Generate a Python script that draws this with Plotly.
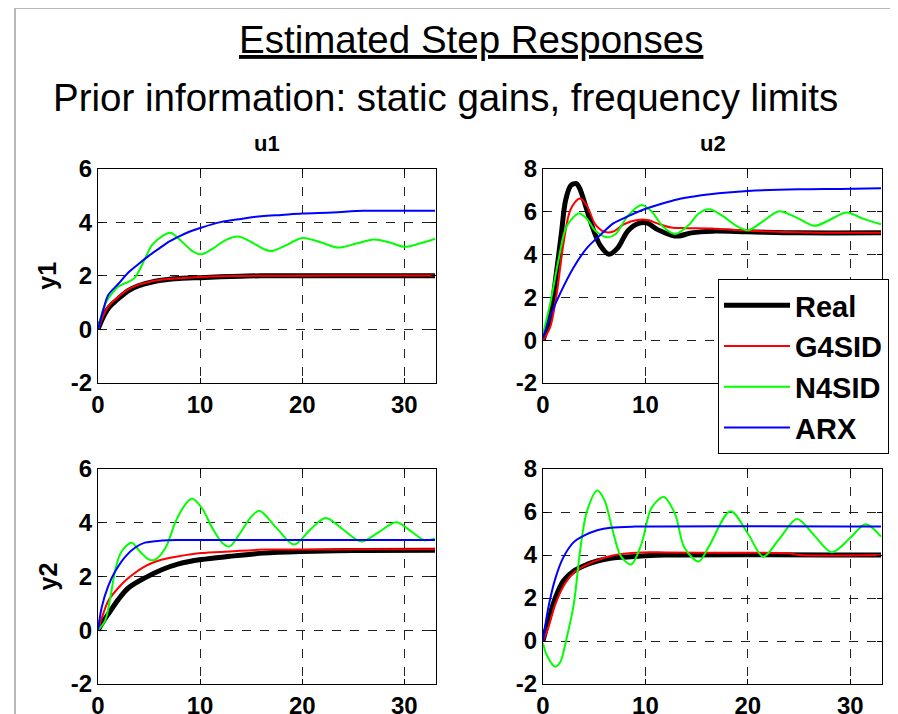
import plotly.graph_objects as go

W, H = 898, 714
OFF = 8  # page body margin of the browser

# ---------------- data ----------------
series_names = ["Real", "G4SID", "N4SID", "ARX"]
series_colors = ["#000000", "#ff0000", "#00ff00", "#0000ff"]
series_widths = [5, 2, 2, 2]

# y1 <- u1
t_real_A = [0, 0.5, 1, 1.5, 2, 3, 4, 5, 6, 7, 8, 10, 12, 14, 16, 20, 25, 33]
v_real_A = [0, 0.45, 0.78, 0.98, 1.15, 1.45, 1.63, 1.74, 1.82, 1.87, 1.9, 1.93, 1.96, 1.98, 2.0, 2.0, 2.0, 2.0]
t_g4_A = [0, 0.5, 1, 1.5, 2, 3, 4, 5, 6, 7, 8, 10, 12, 14, 16, 20, 25, 33]
v_g4_A = [0, 0.5, 0.85, 1.05, 1.22, 1.5, 1.67, 1.77, 1.84, 1.88, 1.91, 1.95, 1.98, 1.99, 2.0, 2.0, 2.01, 2.01]
t_n4_A = [0, 0.5, 1, 1.5, 2, 2.5, 3, 3.65, 4.6, 5.3, 6.3, 7.1, 8.3, 9.2, 10.1, 11.2, 12.5, 13.7,
          14.8, 16.2, 17, 18.5, 20, 21.8, 23.5, 25.3, 27, 28.5, 30, 31.5, 33]
v_n4_A = [0, 0.75, 1.15, 1.4, 1.6, 1.7, 1.77, 1.95, 2.63, 3.15, 3.48, 3.6, 3.24, 2.93, 2.8, 3.0, 3.33, 3.46,
          3.3, 3.0, 2.92, 3.15, 3.41, 3.25, 3.05, 3.2, 3.35, 3.25, 3.08, 3.2, 3.38]
t_arx_A = [0, 0.5, 1, 2, 3, 4, 5, 6, 7, 8, 9, 10, 12, 14, 16, 18, 20, 23, 26, 30, 33]
v_arx_A = [0, 0.7, 1.28, 1.7, 2.13, 2.45, 2.75, 3.02, 3.28, 3.48, 3.65, 3.78, 4.0, 4.12, 4.22, 4.27, 4.32, 4.36, 4.42, 4.42, 4.42]

# y1 <- u2
t_real_B = [0, 0.7, 1.35, 1.8, 2.2, 2.7, 3.25, 3.6, 4.0, 4.8, 5.6, 6.45, 7.3, 8.3, 9.4, 10.2, 11.2, 12.5,
            13.2, 14.5, 16.5, 20, 25, 33]
v_real_B = [0, 1.1, 3.3, 5.0, 6.5, 7.2, 7.3, 7.05, 6.5, 5.3, 4.4, 4.0, 4.3, 5.1, 5.45, 5.45, 5.15, 4.9,
            4.85, 5.0, 5.08, 5.05, 5.0, 5.0]
t_g4_B = [0, 0.7, 1.35, 2.0, 2.7, 3.6, 4.3, 5.1, 6.0, 6.8, 7.9, 9.2, 10.2, 11.4, 12.5, 14, 16.5, 20, 26, 33]
v_g4_B = [0, 0.6, 2.2, 4.5, 6.1, 6.6, 6.25, 5.4, 5.05, 5.05, 5.4, 5.6, 5.6, 5.4, 5.25, 5.22, 5.2, 5.1, 5.02, 5.0]
t_n4_B = [0, 0.7, 1.5, 2.3, 3.5, 4.3, 5.1, 6.3, 7.1, 8.3, 9.6, 10.6, 11.7, 12.9, 14.2, 15.2, 16.2, 17.5,
          18.8, 20, 21.5, 23, 24.8, 26.5, 28, 29.6, 31.3, 33]
v_n4_B = [0.3, 1.7, 3.7, 5.3, 5.9, 5.65, 5.1, 4.8, 4.95, 5.8, 6.3, 6.0, 5.3, 4.95, 5.35, 5.9, 6.1, 5.8,
          5.35, 5.12, 5.55, 6.0, 5.7, 5.33, 5.6, 5.95, 5.65, 5.4]
t_arx_B = [0, 0.7, 1.7, 3.0, 4.3, 5.6, 6.9, 8.2, 9.9, 11.9, 13.5, 16.3, 20, 25, 29, 33]
v_arx_B = [0.1, 1.1, 2.2, 3.4, 4.3, 4.9, 5.45, 5.75, 6.1, 6.4, 6.6, 6.8, 6.95, 7.03, 7.05, 7.08]

# y2 <- u1
t_real_C = [0, 0.5, 1, 2, 3, 4.6, 6.3, 7.9, 10.1, 12.9, 16.2, 20, 25, 33]
v_real_C = [0, 0.32, 0.6, 1.15, 1.58, 1.95, 2.26, 2.47, 2.63, 2.75, 2.87, 2.93, 2.97, 2.98]
t_g4_C = [0, 0.5, 1, 2, 3, 4.6, 6.3, 7.9, 10.1, 12.9, 16.2, 20, 25, 33]
v_g4_C = [0, 0.6, 1.09, 1.58, 1.95, 2.38, 2.63, 2.75, 2.87, 2.93, 3.0, 3.0, 3.01, 3.01]
t_n4_C = [0, 0.7, 1.2, 1.7, 2.3, 3.3, 4.1, 5.0, 5.6, 6.6, 7.6, 8.4, 9.2, 10.2, 11.2, 12.2, 12.9, 13.8,
          15.0, 15.8, 17.5, 19.2, 20.8, 22.3, 24, 25.8, 27.5, 29.2, 30.6, 32, 33]
v_n4_C = [0, 0.36, 1.2, 2.26, 2.93, 3.26, 2.93, 2.63, 2.63, 3.06, 4.04, 4.6, 4.9, 4.53, 3.8, 3.24, 3.12, 3.55,
          4.22, 4.45, 3.8, 3.19, 3.75, 4.18, 3.75, 3.3, 3.65, 4.02, 3.7, 3.35, 3.42]
t_arx_C = [0, 0.36, 1.0, 1.7, 2.7, 3.65, 4.6, 6.3, 8, 33]
v_arx_C = [0, 0.85, 1.64, 2.2, 2.75, 3.08, 3.26, 3.34, 3.36, 3.36]

# y2 <- u2
t_real_D = [0, 0.5, 1.2, 2.0, 3.0, 4.0, 5.3, 6.6, 7.9, 9.6, 12, 33]
v_real_D = [0, 0.9, 2.0, 2.8, 3.25, 3.5, 3.72, 3.85, 3.9, 3.95, 4.0, 4.0]
t_g4_D = [0, 0.5, 1.2, 2.0, 3.0, 4.0, 5.3, 6.6, 7.9, 9.6, 12, 18, 24, 25, 33]
v_g4_D = [0, 0.6, 1.7, 2.55, 3.17, 3.48, 3.75, 3.95, 4.06, 4.12, 4.12, 4.1, 4.08, 4.0, 4.0]
t_n4_D = [0, 0.36, 1.2, 1.7, 2.3, 3.0, 3.65, 4.3, 5.3, 6.0, 6.8, 7.6, 8.6, 9.6, 10.6, 11.8, 12.9, 13.8,
          15.2, 16.2, 18.3, 20, 21.5, 23, 24.8, 26.5, 28.2, 30, 31.5, 33]
v_n4_D = [-0.1, -0.65, -1.2, -0.97, 0.12, 1.7, 4.3, 6.05, 7.0, 6.55, 5.15, 3.95, 3.56, 4.5, 6.2, 6.7, 5.9, 4.35,
          3.7, 4.4, 6.04, 5.0, 3.92, 4.7, 5.68, 4.9, 4.13, 4.8, 5.43, 4.85]
t_arx_D = [0, 0.5, 1.2, 2.0, 3.0, 4.0, 5.3, 6.6, 9, 33]
v_arx_D = [0, 1.5, 2.9, 3.9, 4.6, 4.9, 5.15, 5.27, 5.32, 5.33]

x_ticks = [0, 10, 20, 30]
x_tick_text = ["0", "10", "20", "30"]
y_ticks_left = [-2, 0, 2, 4, 6]
y_text_left = ["-2", "0", "2", "4", "6"]
y_ticks_right = [-2, 0, 2, 4, 6, 8]
y_text_right = ["-2", "0", "2", "4", "6", "8"]
col_titles = ["u1", "u2"]
row_titles = ["y1", "y2"]

panels = [
    ("x", "y", [(t_real_A, v_real_A), (t_g4_A, v_g4_A), (t_n4_A, v_n4_A), (t_arx_A, v_arx_A)]),
    ("x2", "y2", [(t_real_B, v_real_B), (t_g4_B, v_g4_B), (t_n4_B, v_n4_B), (t_arx_B, v_arx_B)]),
    ("x3", "y3", [(t_real_C, v_real_C), (t_g4_C, v_g4_C), (t_n4_C, v_n4_C), (t_arx_C, v_arx_C)]),
    ("x4", "y4", [(t_real_D, v_real_D), (t_g4_D, v_g4_D), (t_n4_D, v_n4_D), (t_arx_D, v_arx_D)]),
]

FONT = "Liberation Sans, Arial, Helvetica, sans-serif"

fig = go.Figure()
for pi, (xa, ya, data) in enumerate(panels):
    for si, (tt, vv) in enumerate(data):
        fig.add_trace(go.Scatter(
            x=tt, y=vv, mode="lines", xaxis=xa, yaxis=ya,
            name=series_names[si],
            line=dict(color=series_colors[si], width=series_widths[si], shape="spline", smoothing=0.9),
            showlegend=(pi == 0), legendgroup=series_names[si],
        ))

def px_x(p):
    return (p - OFF) / W

def px_y(p):
    return 1 - (p - OFF) / H

left_dom = [px_x(98), px_x(436)]
right_dom = [px_x(543), px_x(882)]
top_dom = [px_y(383), px_y(168.5)]
bot_dom = [px_y(684), px_y(469)]

common_axis = dict(
    showline=True, linecolor="black", linewidth=1, mirror="allticks",
    ticks="inside", ticklen=5, tickcolor="black", tickwidth=1,
    showgrid=True, gridcolor="#222222", gridwidth=1, griddash="dash",
    zeroline=False, automargin=False,
    tickfont=dict(family=FONT, size=24, color="black", weight="bold"),
)

def xa(dom, anchor):
    return dict(domain=dom, anchor=anchor, range=[0, 33.1], tickvals=x_ticks, ticktext=x_tick_text, **common_axis)

def yax(dom, anchor, rng, tv, tt):
    return dict(domain=dom, anchor=anchor, range=rng, tickvals=tv, ticktext=tt, **common_axis)

fig.update_layout(
    template="none",
    width=W, height=H,
    margin=dict(l=0, r=0, t=0, b=0, autoexpand=False),
    paper_bgcolor="white", plot_bgcolor="white",
    xaxis=xa(left_dom, "y"), yaxis=yax(top_dom, "x", [-2, 6], y_ticks_left, y_text_left),
    xaxis2=xa(right_dom, "y2"), yaxis2=yax(top_dom, "x2", [-2, 8], y_ticks_right, y_text_right),
    xaxis3=xa(left_dom, "y3"), yaxis3=yax(bot_dom, "x3", [-2, 6], y_ticks_left, y_text_left),
    xaxis4=xa(right_dom, "y4"), yaxis4=yax(bot_dom, "x4", [-2, 8], y_ticks_right, y_text_right),
    showlegend=True,
    legend=dict(
        x=px_x(718), y=px_y(279), xanchor="left", yanchor="top",
        bgcolor="white", bordercolor="black", borderwidth=1,
        font=dict(family=FONT, size=29, color="black", weight="bold"),
        itemwidth=66, tracegroupgap=0,
    ),
)

ann = []
ann.append(dict(text="<u>Estimated Step Responses</u>", x=px_x(471), y=px_y(40), xref="paper", yref="paper",
                showarrow=False, xanchor="center", yanchor="middle",
                font=dict(family=FONT, size=38.5, color="black")))
ann.append(dict(text="Prior information: static gains, frequency limits", x=px_x(445), y=px_y(97),
                xref="paper", yref="paper", showarrow=False, xanchor="center", yanchor="middle",
                font=dict(family=FONT, size=38.5, color="black")))
for ci, dom in enumerate([left_dom, right_dom]):
    ann.append(dict(text=col_titles[ci], x=(dom[0] + dom[1]) / 2, y=px_y(143), xref="paper", yref="paper",
                    showarrow=False, xanchor="center", yanchor="middle",
                    font=dict(family=FONT, size=22, color="black", weight="bold")))
for ri, dom in enumerate([top_dom, bot_dom]):
    ann.append(dict(text=row_titles[ri], x=px_x(47), y=(dom[0] + dom[1]) / 2, xref="paper", yref="paper",
                    showarrow=False, xanchor="center", yanchor="middle", textangle=-90,
                    font=dict(family=FONT, size=25, color="black", weight="bold")))
fig.update_layout(annotations=ann)

# light grey outer frame
fig.update_layout(shapes=[
    dict(type="line", xref="paper", yref="paper", x0=px_x(15), x1=1, y0=px_y(8), y1=px_y(8),
         line=dict(color="#b8b8b8", width=2)),
    dict(type="line", xref="paper", yref="paper", x0=px_x(15), x1=px_x(15), y0=px_y(8), y1=0,
         line=dict(color="#b8b8b8", width=2)),
])

fig.write_html("out.html")
